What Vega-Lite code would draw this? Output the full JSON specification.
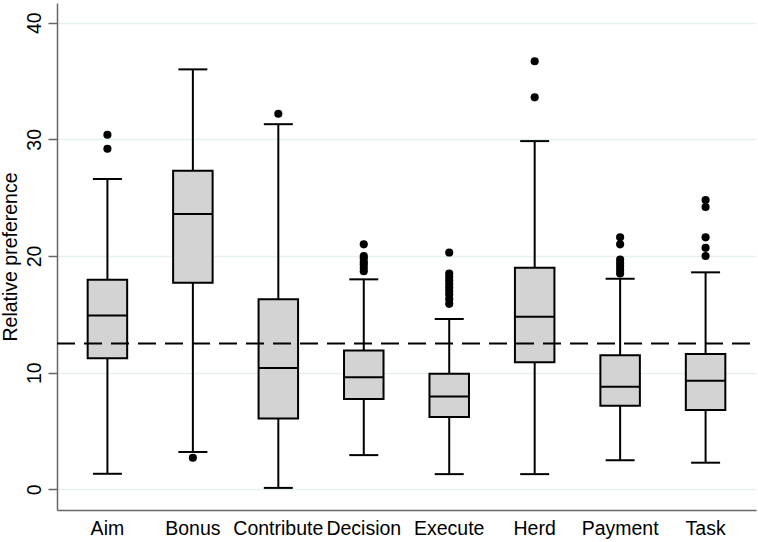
{
  "$schema": "https://vega.github.io/schema/vega-lite/v6.json",
  "description": "Box plots of relative preference by attribute",
  "autosize": {"type": "none"},
  "padding": {"left": 57, "top": 3, "right": 2, "bottom": 32},
  "width": 699,
  "height": 507,
  "background": "white",
  "config": {
    "view": {"stroke": null},
    "font": "Liberation Sans",
    "axis": {
      "labelFont": "Liberation Sans",
      "titleFont": "Liberation Sans",
      "labelFontSize": 19.5,
      "titleFontSize": 19.5,
      "titleFontWeight": "normal",
      "labelColor": "black",
      "titleColor": "black",
      "domainColor": "#666666",
      "domainWidth": 1.5,
      "tickColor": "#666666",
      "tickWidth": 1.5
    }
  },
  "datasets": {
    "stats": [
      {"attribute": "Aim", "lower": 1.33, "q1": 11.24, "median": 14.9, "q3": 17.96, "upper": 26.6},
      {"attribute": "Bonus", "lower": 3.2, "q1": 17.7, "median": 23.6, "q3": 27.3, "upper": 36.0},
      {"attribute": "Contribute", "lower": 0.12, "q1": 6.07, "median": 10.4, "q3": 16.3, "upper": 31.3},
      {"attribute": "Decision", "lower": 2.93, "q1": 7.75, "median": 9.6, "q3": 11.9, "upper": 18.0},
      {"attribute": "Execute", "lower": 1.3, "q1": 6.2, "median": 7.96, "q3": 9.9, "upper": 14.6},
      {"attribute": "Herd", "lower": 1.3, "q1": 10.9, "median": 14.8, "q3": 19.0, "upper": 29.85},
      {"attribute": "Payment", "lower": 2.49, "q1": 7.16, "median": 8.8, "q3": 11.5, "upper": 18.05},
      {"attribute": "Task", "lower": 2.28, "q1": 6.8, "median": 9.3, "q3": 11.6, "upper": 18.6}
    ],
    "outliers": [
      {"attribute": "Aim", "value": 30.4},
      {"attribute": "Aim", "value": 29.2},
      {"attribute": "Bonus", "value": 2.7},
      {"attribute": "Contribute", "value": 32.2},
      {"attribute": "Decision", "value": 21.0},
      {"attribute": "Decision", "value": 20.0},
      {"attribute": "Decision", "value": 19.8},
      {"attribute": "Decision", "value": 19.5},
      {"attribute": "Decision", "value": 19.3},
      {"attribute": "Decision", "value": 19.0},
      {"attribute": "Decision", "value": 18.7},
      {"attribute": "Execute", "value": 20.3},
      {"attribute": "Execute", "value": 18.5},
      {"attribute": "Execute", "value": 18.2},
      {"attribute": "Execute", "value": 17.9},
      {"attribute": "Execute", "value": 17.6},
      {"attribute": "Execute", "value": 17.3},
      {"attribute": "Execute", "value": 17.0},
      {"attribute": "Execute", "value": 16.7},
      {"attribute": "Execute", "value": 16.3},
      {"attribute": "Execute", "value": 15.9},
      {"attribute": "Herd", "value": 36.7},
      {"attribute": "Herd", "value": 33.6},
      {"attribute": "Payment", "value": 21.6},
      {"attribute": "Payment", "value": 21.0},
      {"attribute": "Payment", "value": 19.7},
      {"attribute": "Payment", "value": 19.4},
      {"attribute": "Payment", "value": 19.1},
      {"attribute": "Payment", "value": 18.8},
      {"attribute": "Payment", "value": 18.5},
      {"attribute": "Task", "value": 24.8},
      {"attribute": "Task", "value": 24.2},
      {"attribute": "Task", "value": 21.6},
      {"attribute": "Task", "value": 20.7},
      {"attribute": "Task", "value": 20.0}
    ],
    "reference": [{"ref": 12.5}]
  },
  "encoding": {
    "x": {
      "field": "attribute",
      "type": "nominal",
      "sort": null,
      "scale": {"paddingInner": 0, "paddingOuter": 0.09},
      "axis": {"title": null, "ticks": false, "labelAngle": 0, "labelPadding": 9, "grid": false}
    }
  },
  "layer": [
    {
      "data": {"name": "stats"},
      "mark": {"type": "rule", "color": "black", "strokeWidth": 2},
      "encoding": {
        "y": {
          "field": "lower",
          "type": "quantitative",
          "scale": {"domain": [-1.775, 41.69], "nice": false, "zero": false},
          "axis": {
            "title": "Relative preference",
            "values": [0, 10, 20, 30, 40],
            "grid": true,
            "gridColor": "#e6f0f1",
            "gridWidth": 1.5,
            "tickSize": 9,
            "labelAngle": -90,
            "labelAlign": "center",
            "labelBaseline": "bottom",
            "labelPadding": 4,
            "titlePadding": 4
          }
        },
        "y2": {"field": "upper"}
      }
    },
    {
      "data": {"name": "stats"},
      "mark": {"type": "bar", "size": 39.5, "fill": "#d3d3d3", "stroke": "black", "strokeWidth": 2},
      "encoding": {
        "y": {"field": "q1", "type": "quantitative"},
        "y2": {"field": "q3"}
      }
    },
    {
      "data": {"name": "stats"},
      "mark": {"type": "tick", "color": "black", "size": 39.5, "thickness": 2, "opacity": 1},
      "encoding": {
        "y": {"field": "median", "type": "quantitative"}
      }
    },
    {
      "data": {"name": "stats"},
      "mark": {"type": "tick", "color": "black", "size": 29, "thickness": 2, "opacity": 1},
      "encoding": {
        "y": {"field": "lower", "type": "quantitative"}
      }
    },
    {
      "data": {"name": "stats"},
      "mark": {"type": "tick", "color": "black", "size": 29, "thickness": 2, "opacity": 1},
      "encoding": {
        "y": {"field": "upper", "type": "quantitative"}
      }
    },
    {
      "data": {"name": "outliers"},
      "mark": {"type": "circle", "color": "black", "size": 66, "opacity": 1},
      "encoding": {
        "y": {"field": "value", "type": "quantitative"}
      }
    },
    {
      "data": {"name": "reference"},
      "mark": {"type": "rule", "color": "black", "strokeWidth": 2, "strokeDash": [18, 9]},
      "encoding": {
        "x": {"value": 0},
        "x2": {"value": 699},
        "y": {"field": "ref", "type": "quantitative"}
      }
    }
  ]
}
